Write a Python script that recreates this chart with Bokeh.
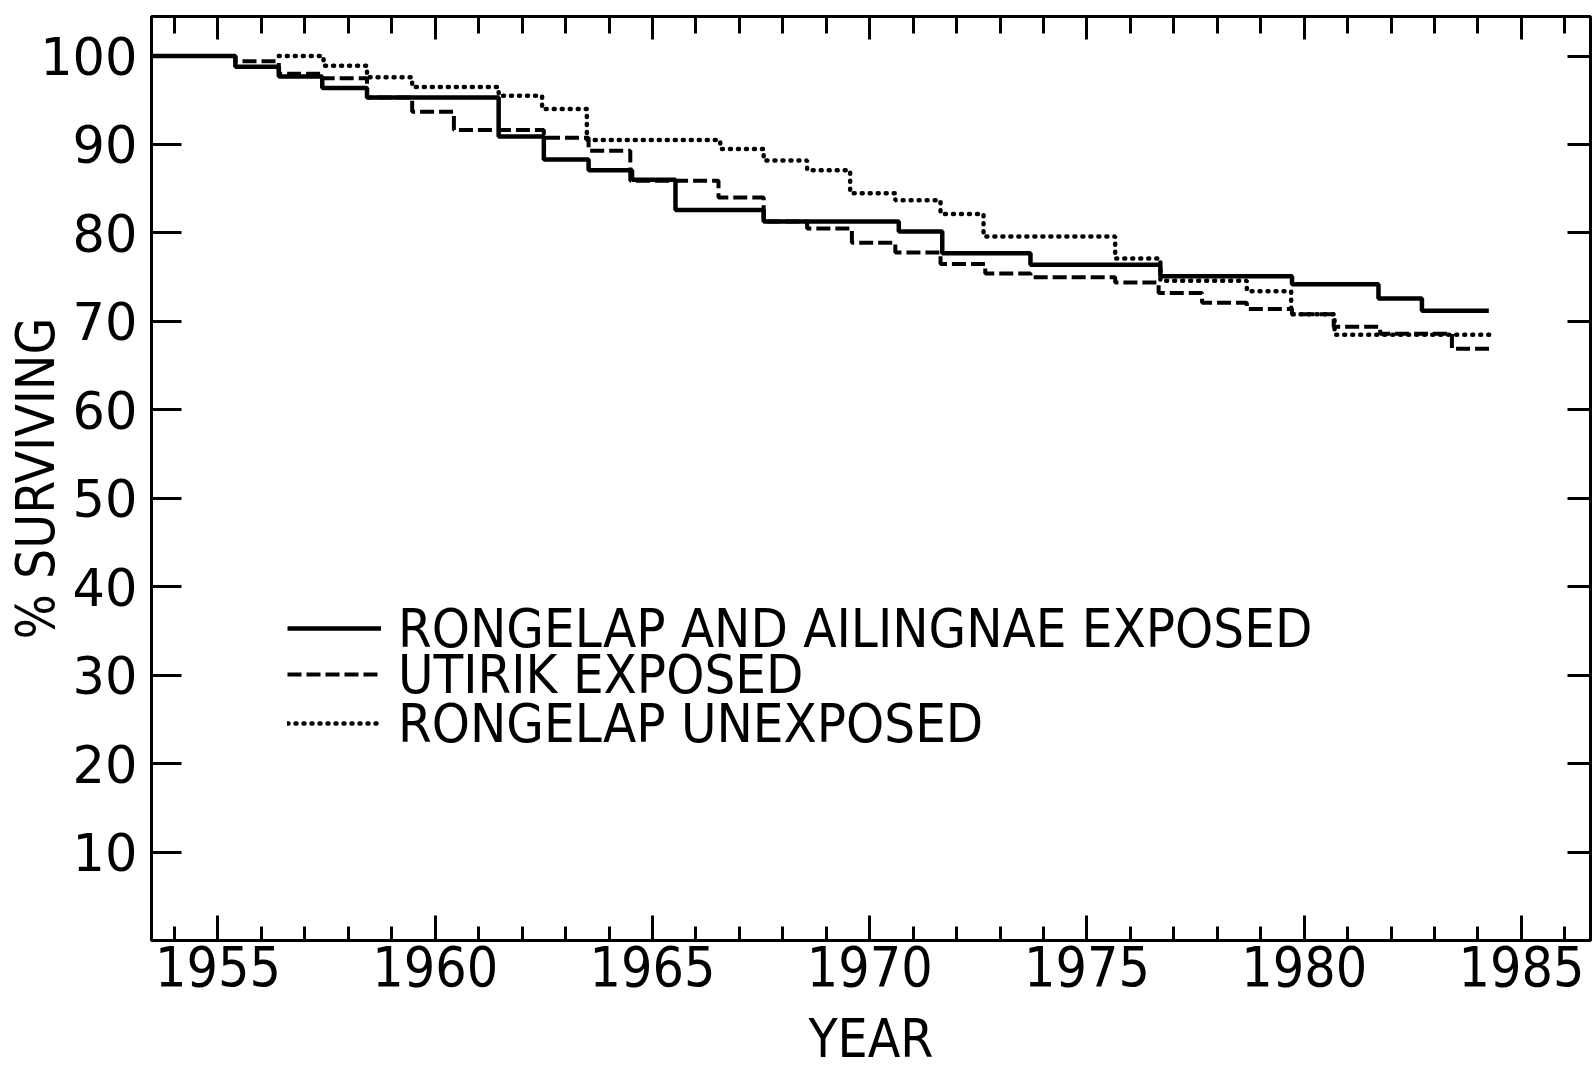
from bokeh.plotting import figure
from bokeh.models import (LinearAxis, SingleIntervalTicker, FixedTicker, Legend,
                          LegendItem, Range1d)
from bokeh.embed import file_html
from bokeh.resources import INLINE

# ---------------- data ----------------
exposed_rongelap_years = [1953.5, 1955.40, 1956.40, 1957.40, 1958.43, 1961.46, 1962.50,
                          1963.53, 1964.53, 1965.53, 1967.56, 1970.67, 1971.67, 1973.70,
                          1976.69, 1979.72, 1981.71, 1982.71, 1984.25]
exposed_rongelap_pct = [100.0, 98.8, 97.7, 96.4, 95.3, 90.9, 88.3, 87.1, 86.0, 82.6,
                        81.3, 80.15, 77.7, 76.4, 75.1, 74.2, 72.6, 71.2, 71.2]

utirik_years = [1953.5, 1955.40, 1956.40, 1957.40, 1958.43, 1959.47, 1960.43, 1962.50,
                1963.53, 1964.49, 1966.52, 1967.56, 1968.56, 1969.59, 1970.59, 1971.63,
                1972.66, 1973.70, 1975.65, 1976.65, 1977.65, 1978.68, 1979.72, 1980.68,
                1981.75, 1983.40, 1984.28]
utirik_pct = [100.0, 99.4, 98.0, 97.5, 95.3, 93.7, 91.65, 90.75, 89.3, 85.9, 84.0, 81.3,
              80.5, 78.9, 77.8, 76.5, 75.4, 75.0, 74.4, 73.2, 72.1, 71.4, 70.8, 69.4,
              68.6, 66.9, 66.9]

unexposed_years = [1956.40, 1957.43, 1958.43, 1959.47, 1961.46, 1962.46, 1963.49, 1966.56,
                   1967.56, 1968.56, 1969.55, 1970.59, 1971.63, 1972.62, 1975.65, 1976.69,
                   1978.68, 1979.70, 1980.70, 1984.28]
unexposed_pct = [100.0, 98.9, 97.6, 96.5, 95.5, 94.0, 90.5, 89.5, 88.2, 87.1, 84.5, 83.7,
                 82.15, 79.6, 77.1, 74.6, 73.4, 70.8, 68.5, 68.5]

series_labels = ["RONGELAP AND AILINGNAE EXPOSED", "UTIRIK EXPOSED", "RONGELAP UNEXPOSED"]
y_tick_values = [10, 20, 30, 40, 50, 60, 70, 80, 90, 100]
x_label = "YEAR"
y_label = "% SURVIVING"

COND = "DejaVu Sans Condensed, DejaVu Sans"

p = figure(width=1593, height=1073,
           x_range=Range1d(1953.47, 1986.59), y_range=Range1d(0, 104.47),
           output_backend="svg", toolbar_location=None,
           min_border_left=151, min_border_right=3, min_border_top=16,
           min_border_bottom=133)
p.background_fill_color = "white"
p.border_fill_color = "white"
p.outline_line_color = "black"
p.outline_line_width = 3
p.grid.visible = False

# bottom axis
xa = p.xaxis[0]
xa.ticker = SingleIntervalTicker(interval=5, num_minor_ticks=5)
xa.axis_line_color = None
xa.major_tick_in = 25
xa.major_tick_out = 0
xa.minor_tick_in = 14
xa.minor_tick_out = 0
xa.major_tick_line_width = 3
xa.minor_tick_line_width = 3
xa.major_tick_line_color = "black"
xa.minor_tick_line_color = "black"
xa.major_label_text_font = COND
xa.major_label_text_font_size = "55px"
xa.major_label_text_color = "black"
xa.major_label_standoff = 5
xa.axis_label = x_label
xa.axis_label_text_font = COND
xa.axis_label_text_font_size = "53px"
xa.axis_label_text_font_style = "normal"
xa.axis_label_text_color = "black"
xa.axis_label_standoff = 19

# left axis
ya = p.yaxis[0]
ya.ticker = FixedTicker(ticks=y_tick_values)
ya.axis_line_color = None
ya.major_tick_in = 30
ya.major_tick_out = 0
ya.minor_tick_line_color = None
ya.major_tick_line_width = 3
ya.major_tick_line_color = "black"
ya.major_label_text_font = "DejaVu Sans"
ya.major_label_text_font_size = "51px"
ya.major_label_text_color = "black"
ya.major_label_standoff = 14
ya.axis_label = y_label
ya.axis_label_text_font = COND
ya.axis_label_text_font_size = "53px"
ya.axis_label_text_font_style = "normal"
ya.axis_label_text_color = "black"
ya.axis_label_standoff = -29

# top axis (ticks only)
ta = LinearAxis(ticker=SingleIntervalTicker(interval=5, num_minor_ticks=5),
                axis_line_color=None, major_tick_in=23, major_tick_out=0,
                minor_tick_in=17, minor_tick_out=0, major_tick_line_width=3,
                minor_tick_line_width=3, major_label_text_font_size="1px",
                major_label_text_color=None, major_label_standoff=0)
p.add_layout(ta, "above")

# right axis (ticks only)
ra = LinearAxis(ticker=FixedTicker(ticks=y_tick_values), axis_line_color=None,
                major_tick_in=23, major_tick_out=0, minor_tick_line_color=None,
                major_tick_line_width=3, major_label_text_font_size="1px",
                major_label_text_color=None, major_label_standoff=0)
p.add_layout(ra, "right")

r1 = p.step(x=exposed_rongelap_years, y=exposed_rongelap_pct, mode="after",
            line_color="black", line_width=4.5)
r2 = p.step(x=utirik_years, y=utirik_pct, mode="after",
            line_color="black", line_width=4, line_dash="14 5")
r3 = p.step(x=unexposed_years, y=unexposed_pct, mode="after",
            line_color="black", line_width=4.5, line_dash="1 7", line_cap="round")

# one legend per row, so each row's height is controlled
for label, rend, offset in zip(series_labels, [r1, r2, r3], [277, 231, 182]):
    lg = Legend(items=[LegendItem(label=label, renderers=[rend])],
                location=(136, offset), padding=0, margin=0, spacing=0,
                glyph_width=94, glyph_height=40, label_standoff=17,
                label_height=70,
                label_text_font=COND, label_text_font_size="54px",
                label_text_color="black",
                border_line_color=None, background_fill_alpha=0)
    p.add_layout(lg)

open("out.html", "w").write(file_html(p, INLINE))
